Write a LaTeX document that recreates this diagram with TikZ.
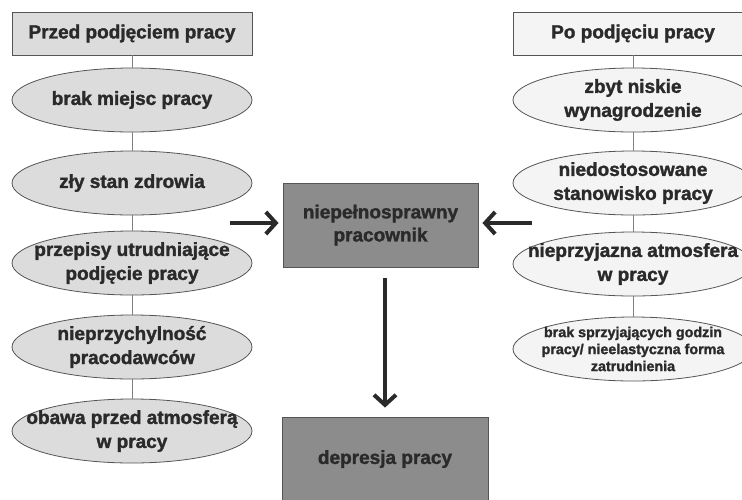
\documentclass[tikz,border=0pt]{standalone}
\usepackage{fontspec}
\setmainfont{Liberation Sans}[BoldFeatures={FakeBold=1.6}]
\usetikzlibrary{arrows.meta,shapes.geometric}
\definecolor{boxink}{HTML}{2A2A2A}
\definecolor{edgegray}{HTML}{555555}
\definecolor{leftfill}{HTML}{DCDCDC}
\definecolor{rightfill}{HTML}{F4F4F4}
\definecolor{midfill}{HTML}{8C8C8C}

\begin{document}
\begin{tikzpicture}[x=1pt,y=-1pt,
    head/.style={draw=edgegray,line width=.9pt,minimum width=240pt,minimum height=43pt,
      inner sep=0pt,text=boxink,font=\fontsize{19}{24}\selectfont\bfseries},
    oval/.style={ellipse,draw=edgegray,line width=.8pt,minimum width=240pt,minimum height=64pt,
      inner xsep=-30pt,inner ysep=-6pt,align=center,text=boxink,
      font=\fontsize{19}{24}\selectfont\bfseries},
    core/.style={draw=edgegray,line width=.9pt,fill=midfill,minimum height=84pt,
      inner sep=0pt,align=center,text=boxink,font=\fontsize{19}{23}\selectfont\bfseries},
    link/.style={draw=gray,line width=.7pt},
    bigarrow/.style={draw=boxink,line width=4pt,-{Straight Barb[length=10pt,width=22pt]}}]
  \useasboundingbox (0,0) rectangle (742,499);
  \clip (0,0) rectangle (742,499);
  \fill[white] (0,0) rectangle (742,499);

  % left column
  \node[head,fill=leftfill] (lh) at (132,33.5) {Przed podjęciem pracy};
  \node[oval,fill=leftfill] (l1) at (132,100) {brak miejsc pracy};
  \node[oval,fill=leftfill] (l2) at (132,183) {zły stan zdrowia};
  \node[oval,fill=leftfill] (l3) at (132,263) {przepisy utrudniające\\podjęcie pracy};
  \node[oval,fill=leftfill] (l4) at (132,347) {nieprzychylność\\pracodawców};
  \node[oval,fill=leftfill] (l5) at (132,431) {obawa przed atmosferą\\w pracy};

  % right column
  \node[head,fill=rightfill] (rh) at (633,33.5) {Po podjęciu pracy};
  \node[oval,fill=rightfill] (r1) at (633,100) {zbyt niskie\\wynagrodzenie};
  \node[oval,fill=rightfill] (r2) at (633,183) {niedostosowane\\stanowisko pracy};
  \node[oval,fill=rightfill] (r3) at (633,264) {nieprzyjazna atmosfera\\w pracy};
  \node[oval,fill=rightfill,font=\fontsize{14.3}{17}\selectfont\bfseries] (r4) at (633,349)
    {brak sprzyjających godzin\\pracy/ nieelastyczna forma\\zatrudnienia};

  \foreach \a/\b in {lh/l1,l1/l2,l2/l3,l3/l4,l4/l5,rh/r1,r1/r2,r2/r3,r3/r4}
    \draw[link] (\a) -- (\b);

  % middle
  \node[core,minimum width=195pt] (worker) at (380.5,225) {niepełnosprawny\\pracownik};
  \node[core,minimum width=206pt] (dep) at (385,459) {depresja pracy};

  \coordinate (lin) at (230,223);
  \coordinate (rin) at (532,223);
  \draw[bigarrow,shorten >=4pt] (lin) -- (lin -| worker.west);
  \draw[bigarrow,shorten >=4pt] (rin) -- (rin -| worker.east);
  \draw[bigarrow,shorten <=11pt,shorten >=9pt] (worker.south -| dep.north) -- (dep.north);
\end{tikzpicture}
\end{document}
